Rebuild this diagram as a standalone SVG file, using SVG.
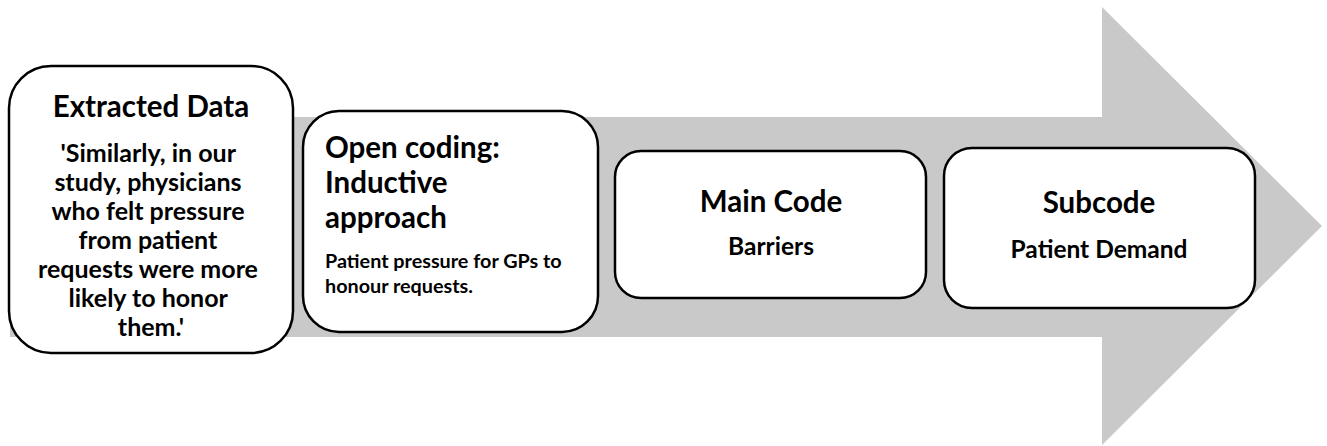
<svg xmlns="http://www.w3.org/2000/svg" width="1327" height="446" viewBox="0 0 1327 446">
  <style>
    .box { fill: #ffffff; stroke: #000000; stroke-width: 2.5; }
    .t { font-family: Lato, "Liberation Sans", sans-serif; font-weight: bold; fill: #000000; }
    .head { font-size: 29.5px; }
    .sub { font-size: 24.5px; }
    .mid { text-anchor: middle; }
  </style>

  <!-- Background process arrow -->
  <path id="process-arrow" d="M10,117 L1102,117 L1102,7 L1322,226 L1102,445 L1102,337 L10,337 Z" fill="#c9c9c9"/>

  <g id="connectors"></g>

  <g id="extracted-data">
    <rect class="box" x="9" y="66" width="284" height="287" rx="42"/>
    <text class="t head mid" x="151" y="117">Extracted Data</text>
    <text class="t mid" x="151" y="162" font-size="25">
      <tspan x="151" y="162">'Similarly, in our</tspan>
      <tspan x="151" y="191">study, physicians</tspan>
      <tspan x="151" y="220">who felt pressure</tspan>
      <tspan x="151" y="249">from patient</tspan>
      <tspan x="151" y="278">requests were more</tspan>
      <tspan x="151" y="307">likely to honor</tspan>
      <tspan x="151" y="336">them.'</tspan>
    </text>
  </g>

  <g id="open-coding">
    <rect class="box" x="303" y="111" width="295" height="221" rx="36"/>
    <text class="t head" x="325" y="158">Open coding:</text>
    <text class="t head" x="325" y="193">Inductive</text>
    <text class="t head" x="325" y="228">approach</text>
    <text class="t" x="325" y="268" font-size="19.8">Patient pressure for GPs to</text>
    <text class="t" x="325" y="293" font-size="19.8">honour requests.</text>
  </g>

  <g id="main-code">
    <rect class="box" x="615" y="151" width="311" height="147" rx="26"/>
    <text class="t head mid" x="771" y="212">Main Code</text>
    <text class="t sub mid" x="771" y="255">Barriers</text>
  </g>

  <g id="subcode">
    <rect class="box" x="944" y="148" width="311" height="160" rx="28"/>
    <text class="t head mid" x="1099" y="213">Subcode</text>
    <text class="t sub mid" x="1099" y="258">Patient Demand</text>
  </g>
</svg>
